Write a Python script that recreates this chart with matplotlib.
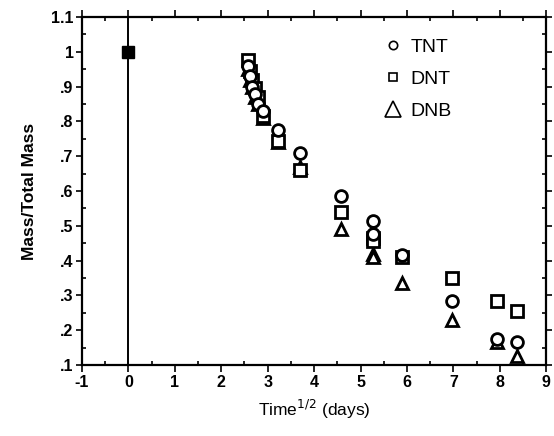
import matplotlib
matplotlib.use("Agg")
import matplotlib.pyplot as plt
from matplotlib.lines import Line2D
from matplotlib.ticker import MultipleLocator, FixedLocator

plt.rcParams['font.family'] = ['Liberation Sans', 'DejaVu Sans']
plt.rcParams['axes.unicode_minus'] = False

# sqrt(time) in days, normalised mass for each compound
tnt_t = [0, 2.58, 2.62, 2.66, 2.72, 2.80, 2.90, 3.23, 3.69, 4.57, 5.27, 5.27, 5.90, 6.97, 7.94, 8.37]
tnt_m = [1.0, 0.96, 0.93, 0.90, 0.88, 0.85, 0.83, 0.775, 0.71, 0.585, 0.515, 0.475, 0.415, 0.285, 0.175, 0.165]

dnt_t = [0, 2.58, 2.62, 2.66, 2.72, 2.80, 2.90, 3.23, 3.69, 4.57, 5.27, 5.27, 5.90, 6.97, 7.94, 8.37]
dnt_m = [1.0, 0.975, 0.945, 0.92, 0.895, 0.87, 0.815, 0.745, 0.66, 0.54, 0.465, 0.455, 0.41, 0.35, 0.285, 0.255]

dnb_t = [0, 2.58, 2.62, 2.66, 2.72, 2.80, 2.90, 3.23, 3.69, 4.57, 5.27, 5.27, 5.90, 6.97, 7.94, 8.37]
dnb_m = [1.0, 0.95, 0.92, 0.90, 0.87, 0.85, 0.81, 0.74, 0.67, 0.49, 0.42, 0.41, 0.335, 0.23, 0.165, 0.125]

yticks = [0.1, 0.2, 0.3, 0.4, 0.5, 0.6, 0.7, 0.8, 0.9, 1.0, 1.1]
ylabels = ['.1', '.2', '.3', '.4', '.5', '.6', '.7', '.8', '.9', '1', '1.1']

fig = plt.figure(figsize=(5.54, 4.36), dpi=100)
ax = fig.add_axes([0.148, 0.163, 0.838, 0.798])

ax.axvline(0, color='black', lw=1.4, zorder=1)

kw = dict(ls='none', color='black', mfc='white', mew=2.0, zorder=3)
ax.plot(dnb_t[1:], dnb_m[1:], marker='^', ms=8.5, **kw)
ax.plot(dnt_t[1:], dnt_m[1:], marker='s', ms=8.5, **kw)
ax.plot(tnt_t[1:], tnt_m[1:], marker='o', ms=8.5, **kw)
# initial point, all three overlap
ax.plot([dnt_t[0]], [dnt_m[0]], marker='s', ms=9, color='black', ls='none', zorder=4)

ax.set_xlim(-1, 9)
ax.set_ylim(0.1, 1.1)
ax.xaxis.set_major_locator(MultipleLocator(1))
ax.xaxis.set_minor_locator(MultipleLocator(0.5))
ax.yaxis.set_major_locator(FixedLocator(yticks))
ax.set_yticklabels(ylabels)
ax.yaxis.set_minor_locator(MultipleLocator(0.05))

ax.tick_params(which='both', top=True, right=True, direction='in', width=1.2)
ax.tick_params(axis='y', which='major', left=True, direction='out', length=4)
ax.tick_params(axis='x', which='major', direction='out', length=5)
ax.tick_params(which='minor', length=3)
ax.tick_params(labelsize=11.5, pad=2)
for lab in ax.get_xticklabels() + ax.get_yticklabels():
    lab.set_fontweight('bold')
for s in ax.spines.values():
    s.set_linewidth(1.6)

ax.set_xlabel('Time$^{1/2}$ (days)', fontsize=12.5, labelpad=6)
ax.set_ylabel('Mass/Total Mass', fontsize=12.5, fontweight='bold', labelpad=10)

handles = [
    Line2D([], [], ls='none', marker='o', ms=6, mfc='white', mec='black', mew=1.2),
    Line2D([], [], ls='none', marker='s', ms=6, mfc='white', mec='black', mew=1.2),
    Line2D([], [], ls='none', marker='^', ms=11, mfc='white', mec='black', mew=1.2),
]
ax.legend(handles, ['TNT', 'DNT', 'DNB'], loc='upper left', bbox_to_anchor=(0.612, 0.99),
          frameon=False, fontsize=14, labelspacing=0.75, handlelength=1.0, handletextpad=0.4)

fig.savefig('out.png', dpi=100)
